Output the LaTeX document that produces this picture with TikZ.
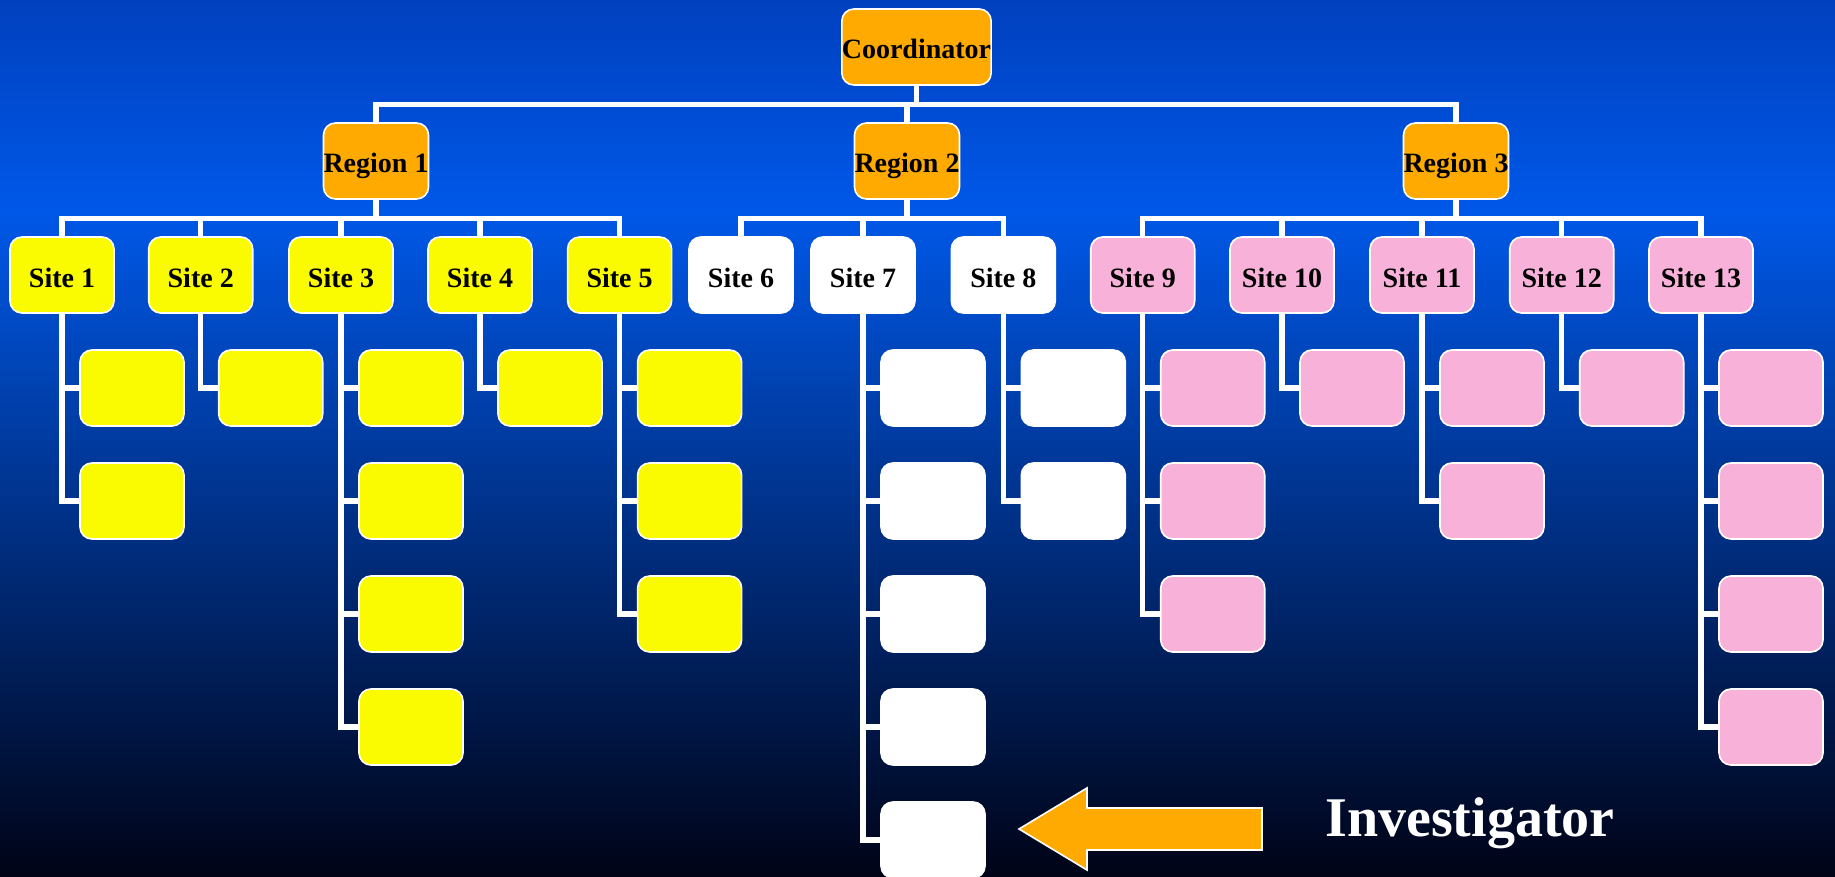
\documentclass[tikz,border=0pt]{standalone}
\usepackage{fontspec}
\setmainfont{Liberation Serif}
\usepackage{tikz}
\usetikzlibrary{positioning}

\definecolor{BgTop}{RGB}{0,64,190}
\definecolor{BgMid}{RGB}{0,88,232}
\definecolor{BgBot}{RGB}{0,3,22}
\definecolor{Amber}{RGB}{255,170,0}
\definecolor{Lemon}{RGB}{250,250,0}
\definecolor{Blush}{RGB}{248,178,218}
\pgfdeclareverticalshading{Backdrop}{100bp}{color(0bp)=(BgBot); color(25bp)=(BgBot); color(63bp)=(BgMid); color(75bp)=(BgTop); color(100bp)=(BgTop)}

\begin{document}
\begin{tikzpicture}[x=0.5pt, y=-0.5pt]
			\tikzstyle{Box}		= [rectangle, rounded corners=6pt, draw=white, line width=0.8pt, minimum width=52pt, minimum height=38pt, inner sep=0pt, text height=12.5pt, text depth=0.5pt, text=black, font=\fontsize{14}{16}\selectfont\bfseries]
			\tikzstyle{Boss}	= [Box, fill=Amber]
			\tikzstyle{Yellow}	= [Box, fill=Lemon]
			\tikzstyle{Blank}	= [Box, fill=white]
			\tikzstyle{Pink}	= [Box, fill=Blush]
			\tikzstyle{Link}	= [draw=white, line width=2.7pt]
			
			\shade [shading=Backdrop] (0,0) rectangle (1835,877);
			\useasboundingbox (0,0) rectangle (1835,877);
			
			\node (coord) at (916.5, 47) [Boss, minimum width=73.5pt] {Coordinator};
			\node (r1) at (376, 161) [Boss] {Region 1};
			\node (r2) at (907, 161) [Boss] {Region 2};
			\node (r3) at (1456, 161) [Boss] {Region 3};
			
			\node (s1) at (62, 275) [Yellow] {Site 1};
			\node (s2) at (200.7, 275) [Yellow] {Site 2};
			\node (s3) at (341, 275) [Yellow] {Site 3};
			\node (s4) at (480, 275) [Yellow] {Site 4};
			\node (s5) at (619.6, 275) [Yellow] {Site 5};
			\node (s6) at (741, 275) [Blank] {Site 6};
			\node (s7) at (863, 275) [Blank] {Site 7};
			\node (s8) at (1003.3, 275) [Blank] {Site 8};
			\node (s9) at (1142.7, 275) [Pink] {Site 9};
			\node (s10) at (1282, 275) [Pink] {Site 10};
			\node (s11) at (1422, 275) [Pink] {Site 11};
			\node (s12) at (1561.7, 275) [Pink] {Site 12};
			\node (s13) at (1701, 275) [Pink] {Site 13};
			
			\coordinate (barTop) at (0, 104.5);
			\coordinate (barSite) at (0, 218.5);
			
			\foreach \r in {r1, r2, r3}
				\draw [Link] (coord.south) |- (\r.north |- barTop) -- (\r.north);
			\foreach \s/\r in {1/1, 2/1, 3/1, 4/1, 5/1, 6/2, 7/2, 8/2, 9/3, 10/3, 11/3, 12/3, 13/3}
				\draw [Link] (r\r.south) |- (s\s.north |- barSite) -- (s\s.north);
			
			% investigators under each site
			\foreach \s/\n/\kind in {1/2/Yellow, 2/1/Yellow, 3/4/Yellow, 4/1/Yellow, 5/3/Yellow, 7/5/Blank, 8/2/Blank, 9/3/Pink, 10/1/Pink, 11/2/Pink, 12/1/Pink, 13/4/Pink}
				\foreach \k in {1,...,\n} {
					\path (s\s) ++(70, {113*\k}) node (c\s-\k) [\kind] {};
					\draw [Link] (s\s.south) |- (c\s-\k.west);
				}
			
			\draw [fill=Amber, draw=white, line width=0.8pt] (1262,808) -- (1087,808) -- (1087,788) -- (1019,829) -- (1087,870) -- (1087,850) -- (1262,850) -- cycle;
			\node (inv) at (1470, 836) [anchor=base, text=white, font=\fontsize{28}{32}\selectfont\bfseries] {Investigator};
		\end{tikzpicture}
\end{document}
